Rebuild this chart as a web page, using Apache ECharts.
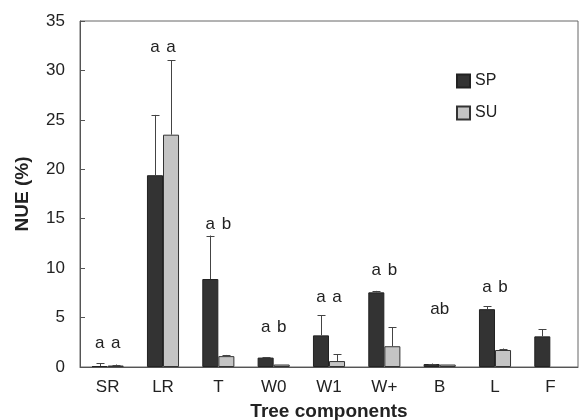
<!DOCTYPE html>
<html>
<head>
<meta charset="utf-8">
<script src="https://cdn.jsdelivr.net/npm/echarts@6/dist/echarts.min.js"></script>
<style>
  html, body { margin: 0; padding: 0; background: #fff; }
  #chart { width: 579px; height: 420px; }
</style>
</head>
<body>
<div id="chart"></div>
<script>
const categories = ['SR', 'LR', 'T', 'W0', 'W1', 'W+', 'B', 'L', 'F'];
const spValues = [0.1, 19.4, 8.9, 0.95, 3.2, 7.55, 0.3, 5.85, 3.1];
const spErrors = [0.27, 6.1, 4.4, 0.05, 2.05, 0.15, 0.05, 0.3, 0.7];
const suValues = [0.15, 23.5, 1.1, 0.25, 0.6, 2.1, 0.25, 1.72, null];
const suErrors = [0.1, 7.55, 0.12, 0, 0.68, 1.93, 0, 0.15, 0];
// significance letters and the height (in % units) they sit at
const spLetters = ['a', 'a', 'a', 'a', 'a', 'a', '', 'a', ''];
const suLetters = ['a', 'a', 'b', 'b', 'a', 'b', '', 'b', ''];
const midLetters = ['', '', '', '', '', '', 'ab', '', ''];
const letterHeights = [2.4, 32.3, 14.4, 4.0, 7.0, 9.8, 5.8, 8.1, 0];
const yTicks = { min: 0, max: 35, interval: 5 };

const FONT = "'Liberation Sans', Arial, sans-serif";
const TEXT = '#222';
const GAP = 0.42; // barCategoryGap as a fraction

const chart = echarts.init(document.getElementById('chart'), null, { renderer: 'canvas' });

function errorRender(params, api) {
  const idx = api.value(0);
  const v = api.value(1);
  const e = api.value(2);
  const side = api.value(3);
  if (!e || isNaN(v)) return;
  const band = api.size([1, 0])[0];
  const bw = band * (1 - GAP) / 2;
  const base = api.coord([idx, v]);
  const top = api.coord([idx, v + e]);
  const cx = Math.round(base[0] + side * bw / 2) + 0.5;
  const st = { stroke: '#444', lineWidth: 1 };
  return {
    type: 'group',
    children: [
      { type: 'line', shape: { x1: cx, y1: base[1], x2: cx, y2: top[1] }, style: st },
      { type: 'line', shape: { x1: cx - 4, y1: Math.round(top[1]) + 0.5, x2: cx + 4, y2: Math.round(top[1]) + 0.5 }, style: st },
    ],
  };
}

function letterRender(params, api) {
  const idx = api.value(0);
  const h = api.value(1);
  const band = api.size([1, 0])[0];
  const bw = band * (1 - GAP) / 2;
  const p = api.coord([idx, h]);
  const font = '17px ' + FONT;
  const kids = [];
  const add = (txt, x) => {
    if (!txt) return;
    kids.push({ type: 'text', style: { text: txt, x: x, y: p[1], textAlign: 'center', textVerticalAlign: 'middle', font: font, fill: TEXT } });
  };
  add(spLetters[idx], p[0] - bw / 2);
  add(suLetters[idx], p[0] + bw / 2);
  add(midLetters[idx], p[0]);
  return { type: 'group', children: kids };
}

chart.setOption({
  animation: false,
  backgroundColor: '#fff',
  textStyle: { fontFamily: FONT },
  grid: {
    left: 80, right: 1, top: 21, bottom: 53,
    containLabel: false, outerBoundsMode: 'none',
    show: true, borderColor: '#666', borderWidth: 1,
  },
  legend: {
    data: ['SP', 'SU'],
    orient: 'vertical',
    left: 451,
    top: 68,
    itemWidth: 13,
    itemHeight: 13,
    itemGap: 16,
    icon: 'rect',
    textStyle: { fontSize: 16, color: TEXT, fontFamily: FONT },
  },
  xAxis: {
    type: 'category',
    data: categories,
    name: 'Tree components',
    nameLocation: 'middle',
    nameGap: 35,
    nameTextStyle: { fontSize: 19, fontWeight: 'bold', color: TEXT, fontFamily: FONT },
    axisLine: { lineStyle: { color: '#555' } },
    axisTick: { inside: true, length: 6, lineStyle: { color: '#555' } },
    axisLabel: { fontSize: 17, color: TEXT, margin: 12, fontFamily: FONT },
  },
  yAxis: {
    type: 'value',
    min: yTicks.min,
    max: yTicks.max,
    interval: yTicks.interval,
    name: 'NUE (%)',
    nameLocation: 'middle',
    nameGap: 48,
    nameTextStyle: { fontSize: 19, fontWeight: 'bold', color: TEXT, fontFamily: FONT },
    axisLine: { show: true, lineStyle: { color: '#555' } },
    axisTick: { show: true, inside: true, length: 5, lineStyle: { color: '#555' } },
    axisLabel: { fontSize: 17, color: TEXT, margin: 15, fontFamily: FONT },
    splitLine: { show: false },
  },
  series: [
    {
      name: 'SP',
      type: 'bar',
      data: spValues,
      barGap: '0%',
      barCategoryGap: GAP * 100 + '%',
      itemStyle: { color: '#333', borderColor: '#222', borderWidth: 1 },
    },
    {
      name: 'SU',
      type: 'bar',
      data: suValues,
      barGap: '0%',
      barCategoryGap: GAP * 100 + '%',
      itemStyle: { color: '#c4c4c4', borderColor: '#333', borderWidth: 1 },
    },
    {
      type: 'custom',
      renderItem: errorRender,
      data: spValues.map((v, i) => [i, v, spErrors[i], -1]),
      encode: { x: 0, y: 1 },
      z: 5,
    },
    {
      type: 'custom',
      renderItem: errorRender,
      data: suValues.map((v, i) => [i, v == null ? NaN : v, suErrors[i], 1]),
      encode: { x: 0, y: 1 },
      z: 5,
    },
    {
      type: 'custom',
      renderItem: letterRender,
      data: letterHeights.map((h, i) => [i, h]),
      encode: { x: 0, y: 1 },
      z: 6,
    },
  ],
});
</script>
</body>
</html>
